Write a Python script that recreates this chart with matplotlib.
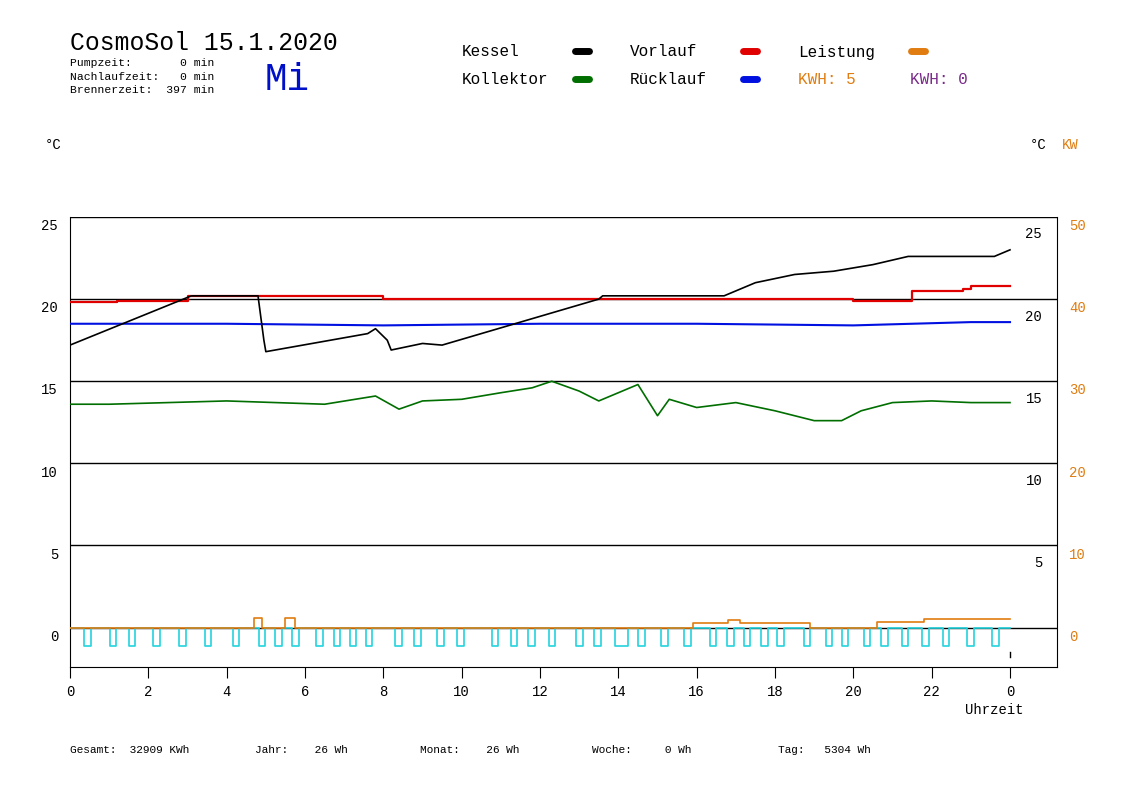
import numpy as np
import matplotlib.pyplot as plt
from matplotlib.lines import Line2D

plt.rcParams['font.family'] = ['Liberation Mono', 'DejaVu Sans Mono']

# --- data (hours, degC / kW) ---
kessel_h = [0, 3.1, 3.3, 4.8, 4.95, 5.0, 7.6, 7.8, 8.1, 8.2, 9.0, 9.5, 13.5, 13.6, 16.7, 17.5, 18.5, 19.5, 20.5, 21.4, 23.6, 24.0]
kessel_t = [17.2, 20.2, 20.2, 20.2, 17.5, 16.8, 17.9, 18.2, 17.5, 16.9, 17.3, 17.2, 20.0, 20.2, 20.2, 21.0, 21.5, 21.7, 22.1, 22.6, 22.6, 23.0]

vorlauf_h = [0, 1.2, 3.0, 5.0, 8.0, 12.0, 16.0, 20.0, 21.5, 22.8, 23.0, 24.0]
vorlauf_t = [19.8, 19.9, 20.2, 20.2, 20.0, 20.0, 20.0, 19.9, 20.5, 20.6, 20.8, 20.8]

ruecklauf_h = [0, 4.0, 8.0, 12.0, 16.0, 20.0, 23.0, 24.0]
ruecklauf_t = [18.5, 18.5, 18.4, 18.5, 18.5, 18.4, 18.6, 18.6]

kollektor_h = [0, 1.0, 4.0, 6.5, 7.8, 8.4, 9.0, 10.0, 11.0, 11.8, 12.3, 13.0, 13.5, 14.0, 14.5, 15.0, 15.3, 16.0, 17.0, 18.0, 19.0, 19.7, 20.2, 21.0, 22.0, 23.0, 24.0]
kollektor_t = [13.6, 13.6, 13.8, 13.6, 14.1, 13.3, 13.8, 13.9, 14.3, 14.6, 15.0, 14.4, 13.8, 14.3, 14.8, 12.9, 13.9, 13.4, 13.7, 13.2, 12.6, 12.6, 13.2, 13.7, 13.8, 13.7, 13.7]

# power steps (kW, right axis 0..50)
leistung_h = [0, 4.7, 4.7, 4.9, 4.9, 5.5, 5.5, 5.75, 5.75, 15.9, 15.9, 16.8, 16.8, 17.1, 17.1, 18.9, 18.9, 20.6, 20.6, 21.8, 21.8, 24.0]
leistung_kw = [0, 0, 1.2, 1.2, 0, 0, 1.2, 1.2, 0, 0, 0.6, 0.6, 0.9, 0.9, 0.6, 0.6, 0, 0, 0.7, 0.7, 1.0, 1.0]

# pump pulses (start hour)
pulse_h = [0.37, 1.01, 1.50, 2.13, 2.78, 3.44, 4.15, 4.82, 5.23, 5.68, 6.28, 6.73, 7.14, 7.55,
           8.30, 8.78, 9.38, 9.89, 10.77, 11.25, 11.70, 12.22, 12.93, 13.38, 13.91, 14.50,
           15.10, 15.68, 16.33, 16.78, 17.20, 17.64, 18.05, 18.73, 19.29, 19.70, 20.26,
           20.71, 21.23, 21.76, 22.28, 22.91, 23.55]
pulse_w = [0.17] * len(pulse_h)
pulse_w[24] = 0.33

yticks = [0, 5, 10, 15, 20, 25]
xticks = [0, 2, 4, 6, 8, 10, 12, 14, 16, 18, 20, 22, 24]
xlabels = ['0', '2', '4', '6', '8', '10', '12', '14', '16', '18', '20', '22', '0']

fig = plt.figure(figsize=(11.48, 8.12), dpi=100)
ax = fig.add_axes([70/1148, 144/812, 987/1148, 450/812])
ax.set_xlim(0, 25.2)
ax.set_ylim(-2.4, 25)

for y in yticks:
    ax.axhline(y, color='black', lw=1, zorder=1)

# cyan pump pulses
px, py = [0], [0]
for h, w in zip(pulse_h, pulse_w):
    px += [h, h, h + w, h + w]
    py += [0, -1.1, -1.1, 0]
px.append(24)
py.append(0)
ax.plot(px, py, color='#22d3dd', lw=1.2, zorder=3)

ax.plot(leistung_h, np.array(leistung_kw) / 2, color='#e07c10', lw=1.2, zorder=4)
ax.plot(kessel_h, kessel_t, color='black', lw=1.2, zorder=5)
ax.plot(vorlauf_h, vorlauf_t, color='#e00000', lw=1.6, drawstyle='steps-post', zorder=4)
ax.plot(ruecklauf_h, ruecklauf_t, color='#0010e0', lw=1.5, zorder=4)
ax.plot(kollektor_h, kollektor_t, color='#006e00', lw=1.2, zorder=4)
ax.plot([24, 24], [-1.5, -1.8], color='black', lw=1)

ax.spines['top'].set_visible(False)
ax.set_yticks([])
ax.set_xticks(xticks)
ax.set_xticklabels(xlabels, fontsize=10)
ax.tick_params(axis='x', direction='out', length=8, pad=4)

tr = ax.get_yaxis_transform()
for y in yticks:
    ax.text(-0.012, y - 0.5, str(y), transform=tr, ha='right', va='center', fontsize=10)
    if y > 0:
        ax.text(0.985, y - 1.0, str(y), transform=tr, ha='right', va='center', fontsize=10)
    ax.text(1.012, y - 0.5, str(2 * y), transform=tr, ha='left', va='center',
            fontsize=10, color='#e07c10')

fig.text(965/1148, 1 - 710/812, 'Uhrzeit', fontsize=10, ha='left', va='center')
fig.text(45/1148, 1 - 145/812, '°C', fontsize=10, va='center')
fig.text(1030/1148, 1 - 145/812, '°C', fontsize=10, va='center')
fig.text(1062/1148, 1 - 145/812, 'KW', fontsize=10, va='center', color='#e07c10')

# header
fig.text(70/1148, 1 - 43/812, 'CosmoSol 15.1.2020', fontsize=17.8, va='center')
fig.text(70/1148, 1 - 58/812, 'Pumpzeit:       0 min\nNachlaufzeit:   0 min\nBrennerzeit:  397 min',
         fontsize=8.2, va='top', linespacing=1.45)
fig.text(265/1148, 1 - 80/812, 'Mi', fontsize=27, color='#0010c8', va='center')

legend = [('Kessel', 'black', 462, 52), ('Vorlauf', '#e00000', 630, 52), ('Leistung', '#e07c10', 798, 52),
          ('Kollektor', '#006e00', 462, 80), ('Rücklauf', '#0010e0', 630, 80)]
for name, col, x, y in legend:
    fig.text(x/1148, 1 - y/812, name, fontsize=11.5, va='center')
    fig.add_artist(Line2D([(x + 113)/1148, (x + 127)/1148], [1 - y/812] * 2, color=col,
                          lw=5, solid_capstyle='round', transform=fig.transFigure))
fig.text(798/1148, 1 - 80/812, 'KWH: 5', fontsize=11.5, va='center', color='#e07c10')
fig.text(910/1148, 1 - 80/812, 'KWH: 0', fontsize=11.5, va='center', color='#7a2a8a')

# footer
footer = [('Gesamt:  32909 KWh', 70), ('Jahr:    26 Wh', 255), ('Monat:    26 Wh', 420),
          ('Woche:     0 Wh', 592), ('Tag:   5304 Wh', 778)]
for s, x in footer:
    fig.text(x/1148, 1 - 750/812, s, fontsize=8, va='center')

fig.savefig('out.png', dpi=100)
